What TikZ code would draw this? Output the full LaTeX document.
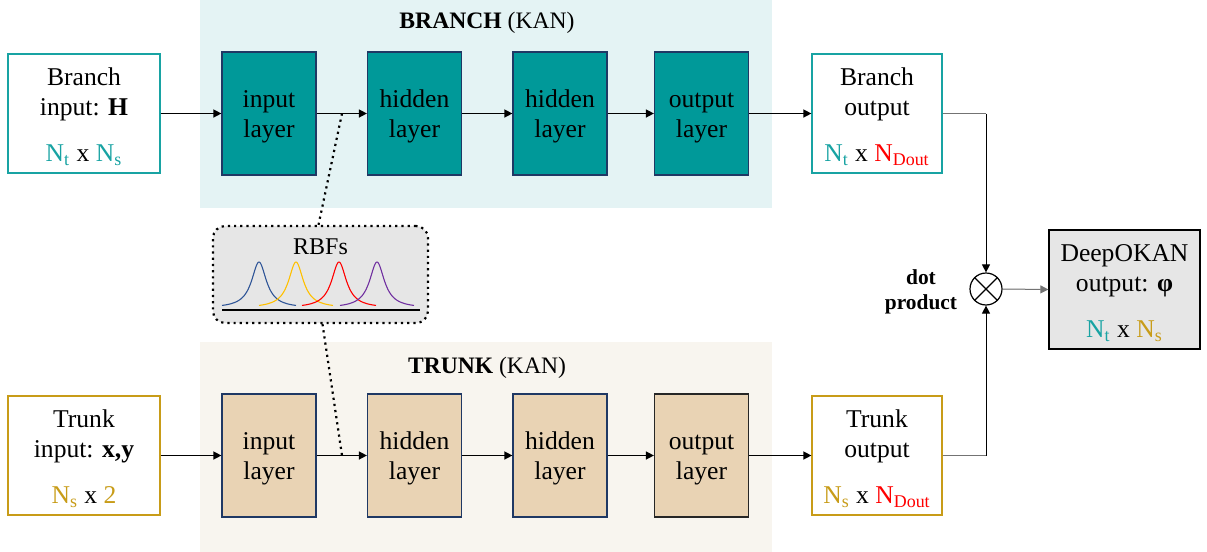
\documentclass[tikz,border=0pt]{standalone}
\usepackage{fontspec}
\setmainfont{Liberation Serif}
\usetikzlibrary{arrows.meta,calc}

\definecolor{tealfill}{RGB}{0,153,153}
\definecolor{tealtxt}{RGB}{24,163,163}
\definecolor{goldtxt}{RGB}{200,156,24}
\definecolor{branchbg}{RGB}{228,243,244}
\definecolor{trunkbg}{RGB}{248,245,239}
\definecolor{tanfill}{RGB}{233,211,180}
\definecolor{navyline}{RGB}{31,56,100}
\definecolor{boxgray}{RGB}{230,230,230}
\definecolor{rbfblue}{RGB}{47,85,151}
\definecolor{rbfyellow}{RGB}{255,192,0}
\definecolor{rbfred}{RGB}{255,0,0}
\definecolor{rbfpurple}{RGB}{112,48,160}

\newcommand{\Nt}{{\color{tealtxt}N\textsubscript{t}}}
\newcommand{\Ns}{{\color{goldtxt}N\textsubscript{s}}}
\newcommand{\Nd}{{\color{red}N\textsubscript{Dout}}}
% uniform first-line height so every box sets its text at the same level
\newcommand{\toprow}{\rule{0pt}{12pt}}

\tikzset{
  every node/.style={font=\fontsize{12.8}{15}\selectfont, inner sep=0pt},
  iobox/.style={draw, line width=0.6pt, fill=white, minimum width=76pt, minimum height=59.5pt, align=center},
  outbox/.style={iobox, minimum width=65pt},
  layerbox/.style={draw=navyline, line width=0.6pt, minimum width=47pt, minimum height=61.5pt, align=center},
  branchlayer/.style={layerbox, fill=tealfill},
  trunklayer/.style={layerbox, fill=tanfill},
  flow/.style={line width=0.7pt, -{Triangle[length=4pt,width=4pt]}},
  thinflow/.style={line width=0.5pt, -{Triangle[length=4pt,width=4pt]}},
  feed/.style={line width=0.5pt, black!55},
  link/.style={line width=1.1pt, dotted},
  title/.style={font=\fontsize{11.8}{14}\selectfont},
}

\begin{document}
\begin{tikzpicture}[x=0.5pt, y=-0.5pt]
\useasboundingbox (0,0) rectangle (1207,552);

% group backgrounds
\fill[branchbg] (200,0) rectangle (772,208);
\fill[trunkbg] (200,342) rectangle (772,552);
\node[title] (btitle) at (487,23) {\textbf{BRANCH} (KAN)};
\node[title] (ttitle) at (487,368) {\textbf{TRUNK} (KAN)};

% branch row
\node[iobox, draw=tealtxt] (bin) at (84,113.5)
  {\toprow Branch\\input: \textbf{H}\\[8pt]\Nt{} x {\color{tealtxt}N\textsubscript{s}}};
\node[branchlayer] (b1) at (269,113.5) {\toprow input\\layer};
\node[branchlayer] (b2) at (414.5,113.5) {\toprow hidden\\layer};
\node[branchlayer] (b3) at (560,113.5) {\toprow hidden\\layer};
\node[branchlayer] (b4) at (701.5,113.5) {\toprow output\\layer};
\node[outbox, draw=tealtxt] (bout) at (877,113.5)
  {\toprow Branch\\output\\[8pt]\Nt{} x \Nd};

% trunk row
\node[iobox, draw=goldtxt] (tin) at (84,455.5)
  {\toprow Trunk\\input: \textbf{x,y}\\[8pt]\Ns{} x {\color{goldtxt}2}};
\node[trunklayer] (t1) at (269,455.5) {\toprow input\\layer};
\node[trunklayer] (t2) at (414.5,455.5) {\toprow hidden\\layer};
\node[trunklayer] (t3) at (560,455.5) {\toprow hidden\\layer};
\node[trunklayer, draw=black!85] (t4) at (701.5,455.5) {\toprow output\\layer};
\node[outbox, draw=goldtxt] (tout) at (877,455.5)
  {\toprow Trunk\\output\\[8pt]\Ns{} x \Nd};

% product and result
\node[draw, circle, line width=0.6pt, minimum size=16pt] (dot) at (986,289) {};
\draw[line width=0.6pt] (dot.north west) -- (dot.south east)
                        (dot.north east) -- (dot.south west);
\node[font=\fontsize{10.7}{12.5}\selectfont\bfseries, align=center] (dotlbl) at (921,292) {dot\\product};
\node[iobox, fill=boxgray, draw=black, minimum width=75.5pt] (deep) at (1124.5,289.5)
  {\toprow DeepOKAN\\output: \textbf{φ}\\[8pt]\Nt{} x \Ns};

% connectors
\draw[flow] (bin) -- (b1);
\draw[flow] (b1) -- (b2);
\draw[flow] (b2) -- (b3);
\draw[flow] (b3) -- (b4);
\draw[flow] (b4) -- (bout);
\draw[flow] (tin) -- (t1);
\draw[flow] (t1) -- (t2);
\draw[flow] (t2) -- (t3);
\draw[flow] (t3) -- (t4);
\draw[flow] (t4) -- (tout);
\coordinate (bturn) at (dot.north |- bout.east);
\coordinate (tturn) at (dot.south |- tout.east);
\draw[feed] (bout.east) -- (bturn);
\draw[feed] (tout.east) -- (tturn);
\draw[thinflow] (bturn) -- (dot.north);
\draw[thinflow] (tturn) -- (dot.south);
\draw[thinflow, draw=black!55, fill=black] (dot.east) -- (deep.west);

% radial basis functions inset
\node[draw, link, fill=boxgray, rounded corners=6pt, minimum width=107.5pt, minimum height=48.5pt] (rbf) at (320.5,274.5) {};
\node[font=\fontsize{12}{14}\selectfont] (rbflbl) at (320.5,247) {RBFs};
\draw[line width=0.6pt] (222,310) -- (420,310);
\foreach \c/\col in {259/rbfblue, 296/rbfyellow, 339/rbfred, 377/rbfpurple}{
  \draw[\col, line width=0.55pt] plot[domain=\c-37:\c+37, samples=80, smooth]
    (\x, {308 - 46/(1+((\x-\c)/9)^2)});
}

% links from the first hidden connection to the inset
\coordinate (bmid) at (342,113.5);
\coordinate (tmid) at (342,455.5);
\draw[link] (bmid) -- ($(rbf.north)+(-2,0)$);
\draw[link] ($(rbf.south)+(2,0)$) -- (tmid);
\end{tikzpicture}
\end{document}
